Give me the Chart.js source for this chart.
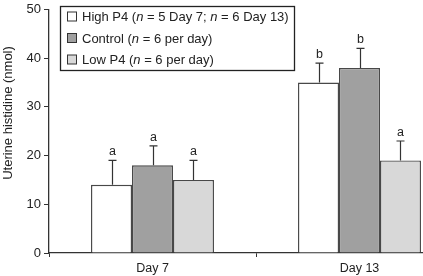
<!DOCTYPE html>
<html><head><meta charset="utf-8">
<script src="https://cdn.jsdelivr.net/npm/chart.js@4/dist/chart.umd.min.js"></script>
<style>
html,body{margin:0;padding:0;background:#fff;overflow:hidden;width:423px;height:276px;}
canvas{display:block;}
</style></head>
<body>
<canvas id="c" width="464" height="276"></canvas>
<script>
const categories = ['Day 7', 'Day 13'];
const seriesNames = ['High P4 (n = 5 Day 7; n = 6 Day 13)', 'Control (n = 6 per day)', 'Low P4 (n = 6 per day)'];
const highP4 = [14, 35];
const control = [18, 38];
const lowP4 = [15, 19];
const highP4Err = [5, 4];
const controlErr = [4, 4];
const lowP4Err = [4, 4];
const highP4Letters = ['a', 'b'];
const controlLetters = ['a', 'b'];
const lowP4Letters = ['a', 'a'];
const yTicks = [0, 10, 20, 30, 40, 50];
const yTitle = 'Uterine histidine (nmol)';

const FONT = '"Liberation Sans", Arial, sans-serif';
const fills = ['#ffffff', '#a0a0a0', '#d8d8d8'];
const edge = '#484848';

const errs = [highP4Err, controlErr, lowP4Err];
const letters = [highP4Letters, controlLetters, lowP4Letters];

const errPlugin = {
  id: 'errbars',
  afterDatasetsDraw(chart) {
    const ctx = chart.ctx, ys = chart.scales.y;
    ctx.save();
    ctx.strokeStyle = '#333';
    ctx.lineWidth = 1.2;
    ctx.fillStyle = '#222';
    ctx.font = '12.5px ' + FONT;
    ctx.textAlign = 'center';
    ctx.textBaseline = 'alphabetic';
    chart.data.datasets.forEach((ds, i) => {
      const meta = chart.getDatasetMeta(i);
      meta.data.forEach((el, j) => {
        const v = ds.data[j];
        const top = ys.getPixelForValue(v + errs[i][j]);
        const x = Math.round(el.x) + 0.5;
        ctx.beginPath();
        ctx.moveTo(x, el.y);
        ctx.lineTo(x, top);
        ctx.moveTo(x - 4, top);
        ctx.lineTo(x + 4, top);
        ctx.stroke();
        ctx.fillText(letters[i][j], x, top - 5);
      });
    });
    // y-axis title
    ctx.save();
    ctx.translate(8, 113);
    ctx.rotate(-Math.PI / 2);
    ctx.font = '13px ' + FONT;
    ctx.textBaseline = 'middle';
    ctx.fillText(yTitle, 0, 0);
    ctx.restore();
    ctx.restore();
  }
};

const legendPlugin = {
  id: 'customLegend',
  afterDraw(chart) {
    const ctx = chart.ctx;
    ctx.save();
    const bx = 60.5, by = 6.5, bw = 234, bh = 64;
    ctx.strokeStyle = '#222';
    ctx.lineWidth = 1.3;
    ctx.fillStyle = '#fff';
    ctx.fillRect(bx, by, bw, bh);
    ctx.strokeRect(bx, by, bw, bh);
    ctx.textBaseline = 'middle';
    chart.data.datasets.forEach((ds, i) => {
      const cy = 16.5 + i * 21.5;
      ctx.fillStyle = fills[i];
      ctx.fillRect(67.5, cy - 4.5, 9, 9);
      ctx.strokeStyle = '#333';
      ctx.lineWidth = 1;
      ctx.strokeRect(67.5, cy - 4.5, 9, 9);
      ctx.fillStyle = '#222';
      let x = 82;
      const parts = ds.label.split(/\b(n)\b/);
      parts.forEach(p => {
        if (!p) return;
        ctx.font = (p === 'n' ? 'italic ' : '') + '13px ' + FONT;
        ctx.fillText(p, x, cy + 1);
        x += ctx.measureText(p).width;
      });
    });
    ctx.restore();
  }
};

const series = [highP4, control, lowP4];
new Chart(document.getElementById('c'), {
  type: 'bar',
  data: {
    labels: categories,
    datasets: series.map((d, i) => ({
      label: seriesNames[i],
      data: d,
      backgroundColor: fills[i],
      borderColor: edge,
      borderWidth: 1.4,
      borderSkipped: 'start',
      categoryPercentage: 0.594,
      barPercentage: 1.0
    }))
  },
  options: {
    responsive: false,
    animation: false,
    devicePixelRatio: 1,
    layout: { padding: { top: 0, right: 1, left: 0, bottom: 0 } },
    plugins: { legend: { display: false }, tooltip: { enabled: false } },
    scales: {
      x: {
        grid: { display: true, drawOnChartArea: false, drawTicks: true, tickLength: 4, color: '#333', offset: true },
        border: { display: true, color: '#333', width: 1.3 },
        ticks: { color: '#222', font: { family: FONT, size: 12.5 }, padding: 4 },
        afterFit(s) { s.height = 23; }
      },
      y: {
        min: 0, max: 50,
        afterBuildTicks(s) { s.ticks = yTicks.map(v => ({ value: v })); },
        grid: { display: true, drawOnChartArea: false, drawTicks: true, tickLength: 5, color: '#333' },
        border: { display: true, color: '#333', width: 1.3 },
        ticks: { color: '#222', font: { family: FONT, size: 13, lineHeight: 1.0 }, padding: 3 },
        title: { display: false },
        afterFit(s) { s.width = 49; }
      }
    }
  },
  plugins: [errPlugin, legendPlugin]
});
</script>
</body></html>
